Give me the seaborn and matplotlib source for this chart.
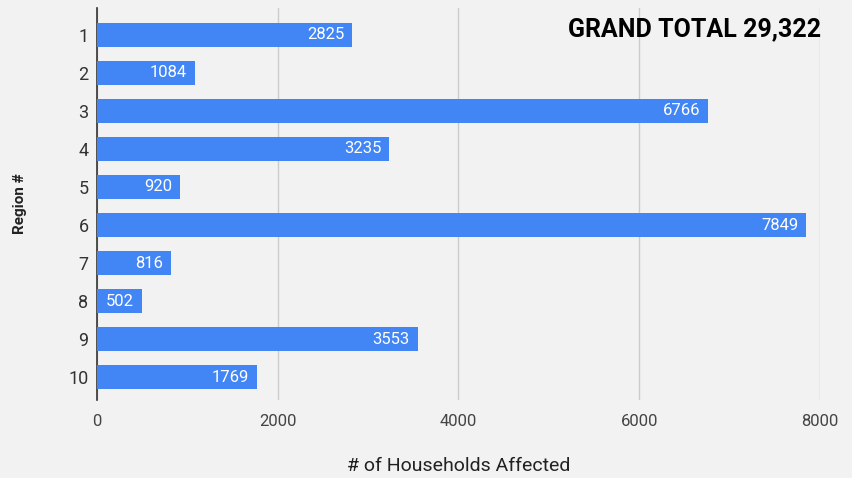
import matplotlib
matplotlib.use("Agg")
import matplotlib.pyplot as plt
import seaborn as sns
import pandas as pd

# data
regions = ["1", "2", "3", "4", "5", "6", "7", "8", "9", "10"]
households = [2825, 1084, 6766, 3235, 920, 7849, 816, 502, 3553, 1769]
x_ticks = [0, 2000, 4000, 6000, 8000]
grand_total = "GRAND TOTAL 29,322"

sns.set_style("white")
narrow = ["Liberation Sans Narrow", "Roboto", "DejaVu Sans"]
plt.rcParams["font.family"] = narrow

bg = "#f2f2f2"
blue = "#4285f4"

df = pd.DataFrame({"region": regions, "households": households})

fig = plt.figure(figsize=(8.52, 4.78), dpi=100, facecolor=bg)
ax = fig.add_axes([0.1138, 0.163, 0.8486, 0.820])
ax.set_facecolor(bg)

sns.barplot(data=df, x="households", y="region", order=regions, color=blue,
            saturation=1, width=0.63, linewidth=0, ax=ax, zorder=3)

ax.set_xlim(0, 8000)
ax.set_ylim(9.6, -0.7)
ax.set_xticks(x_ticks)
ax.set_xticklabels([str(t) for t in x_ticks], fontsize=12, color="#444444")
ax.tick_params(axis="y", labelsize=13, colors="#333333", length=0, pad=6)
ax.tick_params(axis="x", length=0, pad=10)
ax.grid(axis="x", color="#cccccc", linewidth=1, zorder=0)

for s in ["top", "right", "bottom"]:
    ax.spines[s].set_visible(False)
ax.spines["left"].set_color("#333333")
ax.spines["left"].set_linewidth(1.2)

ax.set_xlabel("# of Households Affected", fontsize=14, color="#222222", labelpad=20)
ax.set_ylabel("Region #", fontsize=11, fontweight="bold", color="#222222", labelpad=30)

# value labels inside the bar ends
for p, v in zip(ax.patches, households):
    ax.text(p.get_width() - 90, p.get_y() + p.get_height() / 2, str(v),
            ha="right", va="center", color="white", fontsize=12, zorder=4)

fig.text(821 / 852, 1 - 29 / 478, grand_total, ha="right", va="center",
         fontsize=18, fontweight="bold", color="black")

fig.savefig("out.png", dpi=100, facecolor=bg)
